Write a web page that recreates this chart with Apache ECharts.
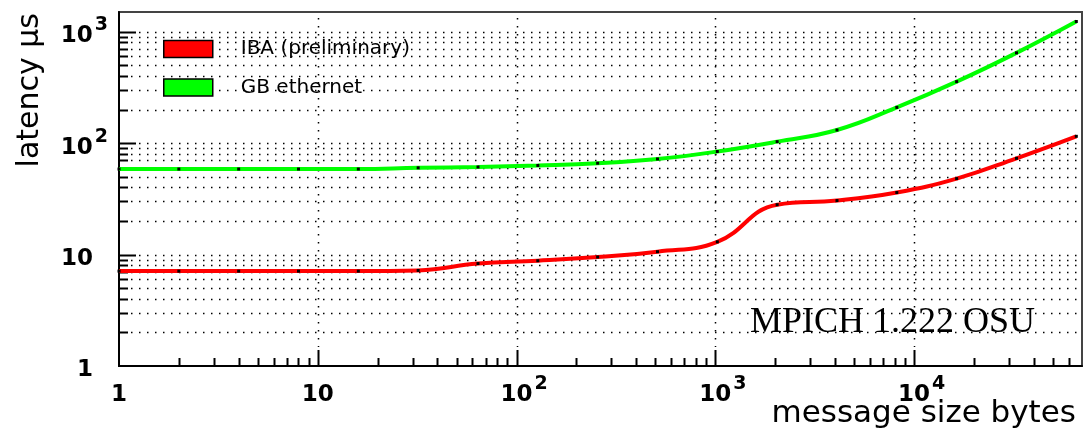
<!DOCTYPE html>
<html>
<head>
<meta charset="utf-8">
<title>MPICH latency</title>
<script src="https://cdn.jsdelivr.net/npm/echarts@6/dist/echarts.min.js"></script>
<style>
  html, body { margin: 0; padding: 0; background: #fff; }
  #chart { width: 1085px; height: 434px; }
</style>
</head>
<body>
<div id="chart"></div>
<script>
// Message sizes in bytes (powers of two)
const sizes = [1, 2, 4, 8, 16, 32, 64, 128, 256, 512, 1024, 2048, 4096, 8192, 16384, 32768, 65536];
// Latency in microseconds
const ibaLatency = [7.1, 7.1, 7.1, 7.1, 7.1, 7.2, 8.3, 8.8, 9.5, 10.6, 13.0, 28.0, 30.5, 36, 48, 73, 115];
const gbeLatency = [58.5, 58.5, 58.5, 58.5, 58.5, 60, 61, 63, 66, 72, 84, 103, 131, 209, 356, 645, 1233];

const seriesNames = ['IBA (preliminary)', 'GB ethernet'];
const seriesColors = ['#ff0000', '#00ff00'];

// Decade labels: mantissa and exponent ('' when there is none)
const xTickBase = ['1', '10', '10', '10', '10'];
const xTickExp = ['', '', '2', '3', '4'];
const yTickBase = ['1', '10', '10', '10'];
const yTickExp = ['', '', '2', '3'];
const xDecades = [1, 10, 100, 1000, 10000];
const yDecades = [1, 10, 100, 1000];
const minorMultipliers = [2, 3, 4, 5, 6, 7, 8, 9];

const X_MIN = 1, X_MAX = 70000, Y_MIN = 1, Y_MAX = 1500;

const labelFont = 'DejaVu Sans';

function decadeIndex(v) {
  const e = Math.round(Math.log10(v));
  return Math.abs(Math.pow(10, e) - v) < 1e-6 * v ? e : -1;
}

// Dotted grid plus inward ticks, drawn through the axes' own scales
function renderGrid(params, api) {
  const cs = params.coordSys;
  const left = cs.x, right = cs.x + cs.width, top = cs.y, bottom = cs.y + cs.height;
  const dotted = { stroke: '#000', lineWidth: 1.5, lineDash: [1.5, 6.5], fill: null };
  const solid = { stroke: '#000', lineWidth: 2, fill: null };
  const children = [];
  yDecades.forEach(function (d) {
    [1].concat(minorMultipliers).forEach(function (m) {
      const v = d * m;
      if (v <= Y_MIN || v >= Y_MAX) return;
      const py = Math.round(api.coord([X_MIN, v])[1]) + 0.5;
      const tickLen = m === 1 ? 17 : 9;
      children.push({ type: 'line', shape: { x1: left + tickLen + 3, y1: py, x2: right - 2, y2: py }, style: dotted, silent: true });
      children.push({ type: 'line', shape: { x1: left, y1: py, x2: left + tickLen, y2: py }, style: solid, silent: true });
    });
  });
  xDecades.forEach(function (d) {
    [1].concat(minorMultipliers).forEach(function (m) {
      const v = d * m;
      if (v <= X_MIN || v >= X_MAX) return;
      const px = Math.round(api.coord([v, Y_MIN])[0]) + 0.5;
      const tickLen = m === 1 ? 16 : 8;
      if (m === 1) {
        children.push({ type: 'line', shape: { x1: px, y1: top + 6, x2: px, y2: bottom - tickLen - 3 }, style: dotted, silent: true });
      }
      children.push({ type: 'line', shape: { x1: px, y1: bottom, x2: px, y2: bottom - tickLen }, style: solid, silent: true });
    });
  });
  return { type: 'group', children: children };
}

// b: mantissa, s: raised exponent, p: blank of the same size as an exponent
const richLabel = {
  b: { fontSize: 23, fontWeight: 'bold', fontFamily: labelFont, color: '#000', verticalAlign: 'bottom' },
  s: { fontSize: 19, fontWeight: 'bold', fontFamily: labelFont, color: '#000', padding: [0, 0, 13, 2], verticalAlign: 'bottom' },
  p: { fontSize: 19, fontWeight: 'bold', fontFamily: labelFont, width: 13, padding: [0, 0, 13, 2], verticalAlign: 'bottom' }
};

function tickText(base, exp) {
  return '{b|' + base + '}' + (exp ? '{s|' + exp + '}' : '{p| }');
}

const chart = echarts.init(document.getElementById('chart'), null, { renderer: 'canvas' });

chart.setOption({
  animation: false,
  backgroundColor: '#ffffff',
  grid: {
    left: 119, right: 3, top: 12, bottom: 68,
    show: true, borderColor: '#444', borderWidth: 2, backgroundColor: 'transparent'
  },
  legend: {
    orient: 'vertical',
    left: 163, top: 39, padding: 0,
    itemWidth: 49, itemHeight: 17, itemGap: 18.5,
    icon: 'rect',
    selectedMode: false,
    textStyle: { fontFamily: labelFont, fontSize: 20, color: '#000', lineHeight: 17, padding: [0, 0, 0, 23] },
    data: seriesNames.map(function (n, i) {
      return { name: n, itemStyle: { color: seriesColors[i], borderColor: '#000', borderWidth: 1.5 } };
    })
  },
  xAxis: {
    type: 'log', logBase: 10, min: X_MIN, max: X_MAX,
    axisLine: { lineStyle: { color: '#000', width: 2 } },
    axisTick: { show: false },
    splitLine: { show: false },
    axisLabel: {
      showMaxLabel: false,
      margin: 9,
      formatter: function (v) {
        const e = decadeIndex(v);
        if (e < 0 || e >= xTickBase.length) return '';
        // a leading blank keeps the mantissa centred on its tick
        return '{p| }' + tickText(xTickBase[e], xTickExp[e]);
      },
      rich: richLabel
    }
  },
  yAxis: {
    type: 'log', logBase: 10, min: Y_MIN, max: Y_MAX,
    axisLine: { lineStyle: { color: '#000', width: 2 } },
    axisTick: { show: false },
    splitLine: { show: false },
    axisLabel: {
      showMaxLabel: false,
      margin: 11,
      formatter: function (v) {
        const e = decadeIndex(v);
        if (e < 0 || e >= yTickBase.length) return '';
        return tickText(yTickBase[e], yTickExp[e]);
      },
      rich: richLabel
    }
  },
  graphic: [
    {
      type: 'text', x: 30, y: 13, rotation: Math.PI / 2,
      style: { text: 'latency \u03bcs', fontFamily: labelFont, fontSize: 30, fill: '#000', align: 'right', verticalAlign: 'middle' }
    },
    {
      type: 'text', x: 1076, y: 429,
      style: { text: 'message size bytes', fontFamily: labelFont, fontSize: 31, fill: '#000', align: 'right', verticalAlign: 'bottom' }
    },
    {
      type: 'text', x: 750, y: 323,
      style: { text: 'MPICH 1.222 OSU', fontFamily: 'Liberation Serif', fontSize: 36, fill: '#000', align: 'left', verticalAlign: 'middle' }
    }
  ],
  series: [
    {
      type: 'custom',
      name: 'grid',
      coordinateSystem: 'cartesian2d',
      clip: false, silent: true, z: 1,
      data: [[X_MIN, Y_MIN]],
      renderItem: renderGrid
    },
    {
      type: 'line', name: seriesNames[0], z: 3,
      data: sizes.map(function (s, i) { return [s, ibaLatency[i]]; }),
      smooth: 0.45,
      symbol: 'rect', symbolSize: 3, showSymbol: true,
      itemStyle: { color: '#000' },
      lineStyle: { color: seriesColors[0], width: 4 }
    },
    {
      type: 'line', name: seriesNames[1], z: 3,
      data: sizes.map(function (s, i) { return [s, gbeLatency[i]]; }),
      smooth: 0.45,
      symbol: 'rect', symbolSize: 3, showSymbol: true,
      itemStyle: { color: '#000' },
      lineStyle: { color: seriesColors[1], width: 4 }
    }
  ]
});
</script>
</body>
</html>
